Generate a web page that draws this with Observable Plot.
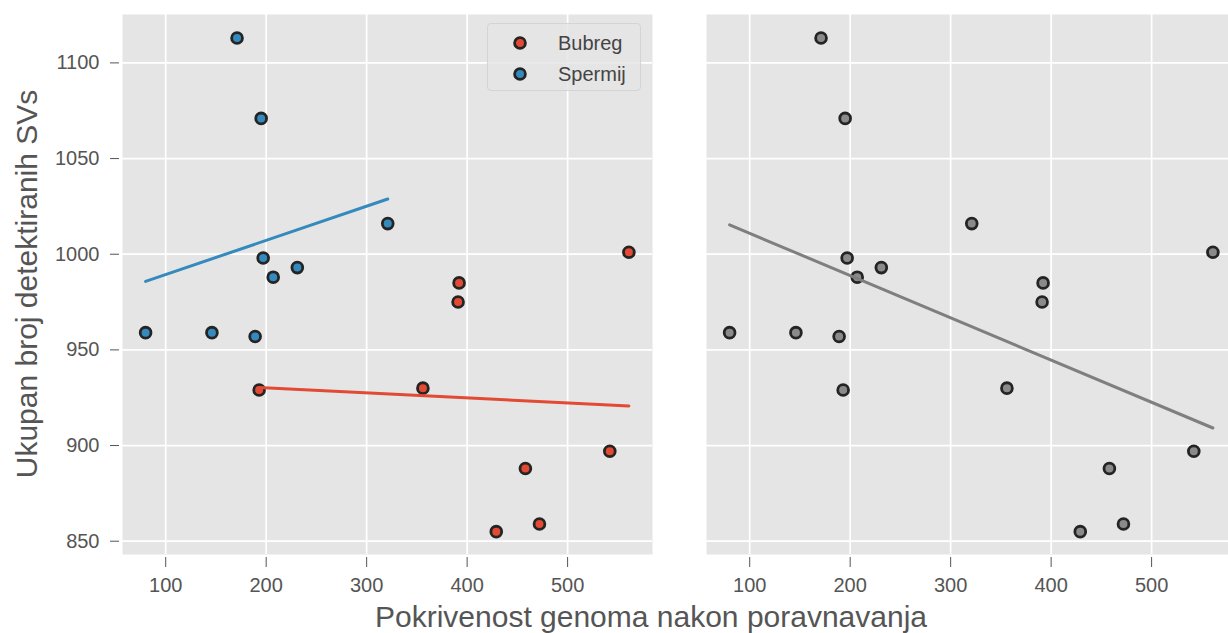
<!DOCTYPE html>
<html>
<head>
<meta charset="utf-8">
<script src="https://cdn.jsdelivr.net/npm/d3@7"></script>
<script src="https://cdn.jsdelivr.net/npm/@observablehq/plot@0.6"></script>
<style>
  html, body { margin: 0; padding: 0; background: #fff; overflow: hidden; }
  #fig { position: relative; width: 1228px; height: 633px; overflow: hidden;
         font-family: "Liberation Sans", Arial, sans-serif; color: #555; }
  #fig > .panel { position: absolute; top: 0; }
  .axis-title { position: absolute; font-size: 30px; line-height: 30px; color: #555;
                white-space: nowrap; text-align: center; }
  #legend { position: absolute; left: 487px; top: 23px; width: 154px; height: 68px;
            box-sizing: border-box; background: rgba(229,229,229,0.8);
            border: 1px solid #d4d4d4; border-radius: 4px; }
  #legend .item { position: absolute; left: 0; height: 24px; width: 100%; }
  #legend svg { position: absolute; left: 22px; top: 2px; }
  #legend span { position: absolute; left: 70px; top: 0; font-size: 20px; line-height: 24px; color: #444; }
</style>
</head>
<body>
<div id="fig"></div>
<script>
// Tissue groups and their colours
const groups = ["Bubreg", "Spermij"];
const groupColors = ["#E24A33", "#348ABD"];

// Genome coverage after alignment and total number of detected SVs per sample
const bubregCoverage = [193, 356, 391, 392, 429, 458, 472, 542, 561];
const bubregSVs      = [929, 930, 975, 985, 855, 888, 859, 897, 1001];
const spermijCoverage = [80, 146, 171, 189, 195, 197, 207, 231, 321];
const spermijSVs      = [959, 959, 1113, 957, 1071, 998, 988, 993, 1016];

// Axis ticks and titles
const xTicks = [100, 200, 300, 400, 500];
const yTicks = [850, 900, 950, 1000, 1050, 1100];
const xTitle = "Pokrivenost genoma nakon poravnavanja";
const yTitle = "Ukupan broj detektiranih SVs";

const rows = [
  ...bubregCoverage.map((c, i) => ({group: groups[0], coverage: c, svs: bubregSVs[i]})),
  ...spermijCoverage.map((c, i) => ({group: groups[1], coverage: c, svs: spermijSVs[i]}))
];

const xDomain = [57, 584.5];
const yDomain = [843.05, 1125.3];
const panelBg = "#E5E5E5";
const edge = "#242424";
const dotR = 5.4;
const dotSW = 2.8;

const base = {
  height: 600,
  marginTop: 14,
  marginBottom: 46,
  marginRight: 0,
  style: {fontFamily: '"Liberation Sans", Arial, sans-serif', fontSize: "20px",
          color: "#555", background: "transparent", overflow: "visible"}
};

const gridMarks = [
  Plot.frame({fill: panelBg, stroke: "none"}),
  Plot.gridX(xTicks, {stroke: "white", strokeOpacity: 1, strokeWidth: 1.7}),
  Plot.gridY(yTicks, {stroke: "white", strokeOpacity: 1, strokeWidth: 1.7}),
  Plot.axisX(xTicks, {tickSize: 10, tickPadding: 10, dy: 3, label: null, fontSize: 20, tickFormat: d3.format("d")})
];

// Left panel: points and fits by tissue
const left = Plot.plot({
  ...base,
  width: 652,
  marginLeft: 122,
  x: {domain: xDomain},
  y: {domain: yDomain},
  color: {domain: groups, range: groupColors},
  marks: [
    ...gridMarks,
    Plot.axisY(yTicks, {tickSize: 9, tickPadding: 11, dx: -3, label: null, fontSize: 20, tickFormat: d3.format("d")}),
    Plot.dot(rows, {x: "coverage", y: "svs", fill: "group", stroke: edge, r: dotR, strokeWidth: dotSW}),
    Plot.linearRegressionY(rows, {x: "coverage", y: "svs", stroke: "group", ci: 0, strokeWidth: 3})
  ]
});

// Right panel: all samples pooled with a single fit
const right = Plot.plot({
  ...base,
  width: 584,
  marginLeft: 54,
  x: {domain: xDomain},
  y: {domain: yDomain, axis: null},
  marks: [
    ...gridMarks,
    Plot.dot(rows, {x: "coverage", y: "svs", fill: "#8a8a8a", stroke: edge, r: dotR, strokeWidth: dotSW}),
    Plot.linearRegressionY(rows, {x: "coverage", y: "svs", stroke: "#7f7f7f", ci: 0, strokeWidth: 3})
  ]
});

const fig = document.getElementById("fig");
left.classList.add("panel");
left.style.left = "0px";
right.classList.add("panel");
right.style.left = "652px";
fig.appendChild(left);
fig.appendChild(right);

// Axis titles
const xt = document.createElement("div");
xt.className = "axis-title";
xt.textContent = xTitle;
xt.style.left = (651 - 400) + "px";
xt.style.width = "800px";
xt.style.top = "602px";
fig.appendChild(xt);

const yt = document.createElement("div");
yt.className = "axis-title";
yt.textContent = yTitle;
yt.style.width = "540px";
yt.style.height = "30px";
yt.style.left = (27 - 270) + "px";
yt.style.top = (284 - 15) + "px";
yt.style.transform = "rotate(-90deg)";
fig.appendChild(yt);

// Legend
const legend = document.createElement("div");
legend.id = "legend";
groups.forEach((g, i) => {
  const item = document.createElement("div");
  item.className = "item";
  item.style.top = (7 + i * 31) + "px";
  item.innerHTML = `<svg width="20" height="20"><circle cx="10" cy="10" r="${dotR}" fill="${groupColors[i]}" stroke="${edge}" stroke-width="${dotSW}"/></svg><span>${g}</span>`;
  legend.appendChild(item);
});
fig.appendChild(legend);
</script>
</body>
</html>
